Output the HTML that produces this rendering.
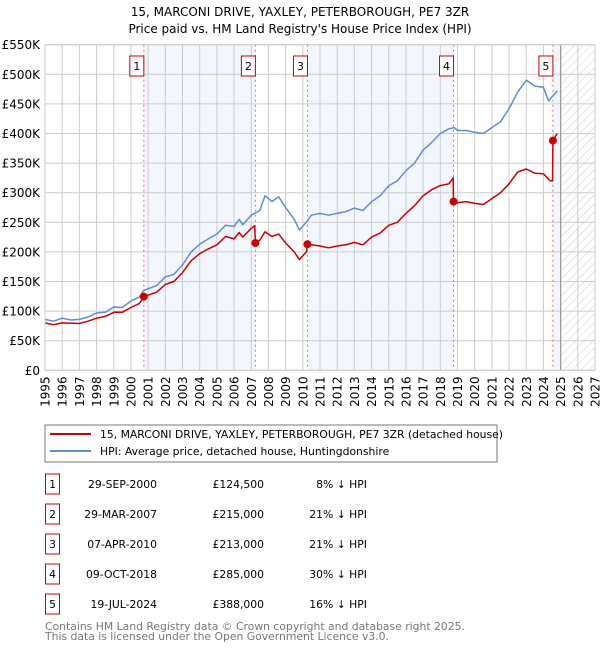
<!DOCTYPE html>
<html><head><meta charset="utf-8"><style>
body{margin:0;background:#fff;}
svg{font-family:"DejaVu Sans","Liberation Sans",sans-serif;}
</style></head><body>
<svg id="c" width="600" height="650" xmlns="http://www.w3.org/2000/svg">
<defs><pattern id="hatch" width="6" height="6" patternUnits="userSpaceOnUse" patternTransform="rotate(45)"><line x1="0" y1="0" x2="0" y2="6" stroke="#ccc" stroke-width="1"/></pattern></defs>
<text x="300" y="16" text-anchor="middle" font-size="12">15, MARCONI DRIVE, YAXLEY, PETERBOROUGH, PE7 3ZR</text>
<text x="300" y="33" text-anchor="middle" font-size="12">Price paid vs. HM Land Registry's House Price Index (HPI)</text>
<g id="plot"></g>
<rect x="45" y="425" width="452" height="37" fill="#fff" stroke="#777"/>
<line x1="50" y1="434" x2="91" y2="434" stroke="#cc0000" stroke-width="2"/>
<text x="100" y="438" font-size="10.8">15, MARCONI DRIVE, YAXLEY, PETERBOROUGH, PE7 3ZR (detached house)</text>
<line x1="50" y1="451" x2="91" y2="451" stroke="#5b8fd0" stroke-width="2"/>
<text x="100" y="455" font-size="10.8">HPI: Average price, detached house, Huntingdonshire</text>
<g id="table" font-size="10.8"></g>
<text x="45" y="630" font-size="10.8" fill="#777">Contains HM Land Registry data © Crown copyright and database right 2025.</text>
<text x="45" y="640" font-size="10.8" fill="#777">This data is licensed under the Open Government Licence v3.0.</text>
</svg>
<script>
const hpiYears=[1995,1995.5,1996,1996.5,1997,1997.5,1998,1998.5,1999,1999.5,2000,2000.5,2000.75,2001.5,2002,2002.5,2003,2003.5,2004,2004.5,2005,2005.5,2006,2006.3,2006.5,2007,2007.5,2007.8,2008.2,2008.6,2009,2009.5,2009.8,2010.2,2010.5,2011,2011.5,2012,2012.5,2013,2013.5,2014,2014.5,2015,2015.5,2016,2016.5,2017,2017.5,2018,2018.5,2018.8,2019,2019.5,2020,2020.5,2021,2021.5,2022,2022.5,2023,2023.5,2024,2024.3,2024.8];
const hpiValues=[86,83,88,85,86,90,97,98,107,106,117,124,135,143,158,162,178,200,213,222,230,245,243,255,246,262,270,295,285,293,275,255,237,250,262,265,262,265,268,274,270,285,295,312,320,337,350,372,385,400,408,410,405,405,402,400,410,420,442,470,490,480,478,455,472];
const priceYears=[1995,1995.5,1996,1997,1997.5,1998,1998.5,1999,1999.5,2000,2000.5,2000.75,2001.5,2002,2002.5,2003,2003.5,2004,2004.5,2005,2005.5,2006,2006.3,2006.5,2007,2007.2,2007.24,2007.5,2007.8,2008.2,2008.6,2009,2009.5,2009.8,2010.2,2010.27,2011,2011.5,2012,2012.5,2013,2013.5,2014,2014.5,2015,2015.5,2016,2016.5,2017,2017.5,2018,2018.5,2018.75,2018.77,2019,2019.5,2020,2020.5,2021,2021.5,2022,2022.5,2023,2023.5,2024,2024.4,2024.53,2024.55,2024.8];
const priceValues=[80,77,80,79,83,88,91,98,98,106,113,124.5,132,145,150,165,185,197,205,212,226,222,233,225,240,244,215,220,234,226,230,215,200,187,200,213,210,207,210,212,216,212,225,232,245,250,265,278,295,305,312,315,325,285,283,285,282,280,290,300,315,335,340,333,332,320,320,388,400];
const saleLabels=["1","2","3","4","5"];
const saleYears=[2000.75,2007.24,2010.27,2018.77,2024.55];
const saleValues=[124.5,215,213,285,388];
const saleDates=["29-SEP-2000","29-MAR-2007","07-APR-2010","09-OCT-2018","19-JUL-2024"];
const salePrices=["£124,500","£215,000","£213,000","£285,000","£388,000"];
const saleDiffs=["8% ↓ HPI","21% ↓ HPI","21% ↓ HPI","30% ↓ HPI","16% ↓ HPI"];
const yTicks=[0,50,100,150,200,250,300,350,400,450,500,550];
const yTickLabels=["£0","£50K","£100K","£150K","£200K","£250K","£300K","£350K","£400K","£450K","£500K","£550K"];
const xTicks=[1995,1996,1997,1998,1999,2000,2001,2002,2003,2004,2005,2006,2007,2008,2009,2010,2011,2012,2013,2014,2015,2016,2017,2018,2019,2020,2021,2022,2023,2024,2025,2026,2027];

const L=45,R=595,T=44.7,B=370.3,X0=1995,X1=2027,YM=550,dataEnd=2025;
const xs=v=>L+(v-X0)/(X1-X0)*(R-L);
const ys=v=>B-v/YM*(B-T);
const NS="http://www.w3.org/2000/svg";
const plot=document.getElementById('plot');
function mk(tag,attrs,parent){const e=document.createElementNS(NS,tag);for(const k in attrs)e.setAttribute(k,attrs[k]);(parent||plot).appendChild(e);return e;}

let e=mk('rect',{x:L,y:T,width:R-L,height:B-T,fill:'#fff'});


const bands=[[0,1],[2,3],[4,null]];
bands.forEach((b,i)=>{const x1=xs(saleYears[b[0]]),x2=b[1]===null?xs(dataEnd):xs(saleYears[b[1]]);
 const r=mk('rect',{x:x1,y:T,width:x2-x1,height:B-T,fill:'#eef3fc',opacity:0.7});
 
 });
const h=mk('rect',{x:xs(dataEnd),y:T,width:R-xs(dataEnd),height:B-T,fill:'url(#hatch)'});


yTicks.forEach((v,i)=>{const g=mk('line',{x1:L,x2:R,y1:ys(v),y2:ys(v),stroke:'#ccc','stroke-width':1});
 
 
 const t=mk('text',{x:L-5,y:ys(v)+4.5,'text-anchor':'end','font-size':12});t.textContent=yTickLabels[i];
 
 });
xTicks.forEach(v=>{const g=mk('line',{x1:xs(v),x2:xs(v),y1:T,y2:B,stroke:'#ccc','stroke-width':1});
 
 
 const t=mk('text',{x:0,y:0,'text-anchor':'end','font-size':12,transform:`translate(${xs(v)+4.5},${B+6}) rotate(-90)`});t.textContent=v;
 
 });
const dl=mk('line',{x1:xs(dataEnd),x2:xs(dataEnd),y1:T,y2:B,stroke:'#999','stroke-width':1.2});


saleYears.forEach((y,i)=>{const l=mk('line',{x1:xs(y),x2:xs(y),y1:T,y2:B,stroke:'#f07070','stroke-dasharray':'2,3','stroke-width':1});
 
 });
function path(xa,va,col,name){const d=xa.map((x,i)=>(i?'L':'M')+xs(x).toFixed(1)+','+ys(va[i]).toFixed(1)).join('');
 const p=mk('path',{d:d,fill:'none',stroke:col,'stroke-width':1.5,'stroke-linejoin':'round'});
 
 }
path(hpiYears,hpiValues,'#5b8fd0','hpi-line');
path(priceYears,priceValues,'#cc0000','price-line');
saleYears.forEach((y,i)=>{const c=mk('circle',{cx:xs(y),cy:ys(saleValues[i]),r:4,fill:'#cc0000'});
 
 
 const r=mk('rect',{x:xs(y)-14,y:56,width:14,height:20,fill:'#fff',stroke:'#cc0000'});
 
 
 const t=mk('text',{x:xs(y)-7,y:70,'text-anchor':'middle','font-size':11});t.textContent=saleLabels[i];
 
 });
mk('rect',{x:L,y:T,width:R-L,height:B-T,fill:'none',stroke:'#ccc'});
const tb=document.getElementById('table');
saleLabels.forEach((s,i)=>{const cy=483+i*30;
 const r=mk('rect',{x:45.5,y:cy-9,width:14,height:20,fill:'#fff',stroke:'#cc0000'},tb);
 
 
 const cols=[[52.5,'middle',s,'row-number'],[157,'end',saleDates[i],'sale-date'],[264,'end',salePrices[i],'sale-price'],[367,'end',saleDiffs[i],'hpi-diff']];
 cols.forEach(c=>{const t=mk('text',{x:c[0],y:cy+5,'text-anchor':c[1]},tb);t.textContent=c[2];
  
  });});
</script>
</body></html>
